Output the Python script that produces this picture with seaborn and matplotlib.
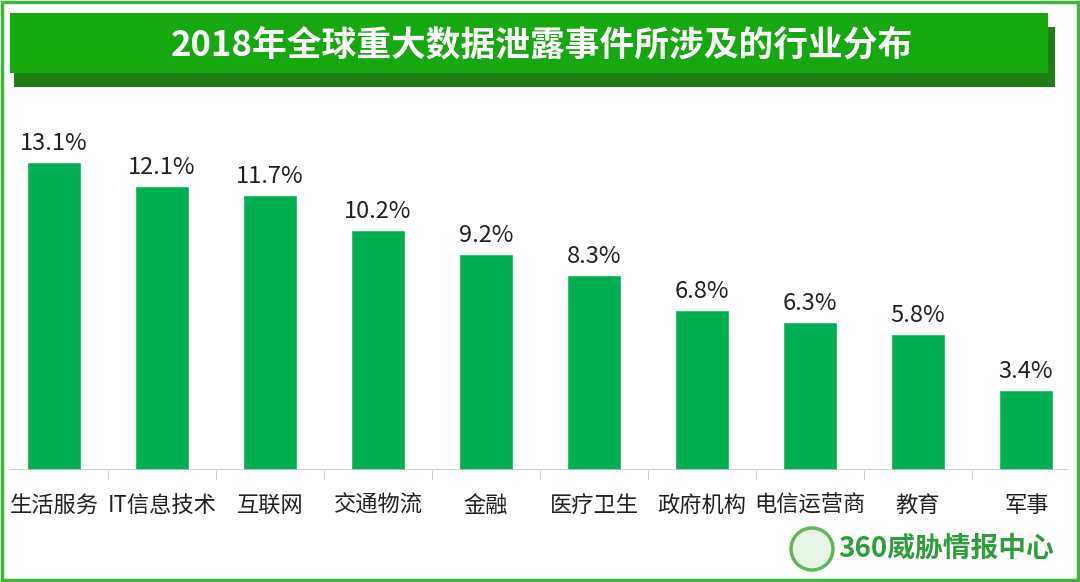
import matplotlib
matplotlib.use("Agg")
import matplotlib.pyplot as plt
import matplotlib.patches as mpatches
import seaborn as sns
import pandas as pd

# data
industries = ["生活服务", "IT信息技术", "互联网", "交通物流", "金融",
              "医疗卫生", "政府机构", "电信运营商", "教育", "军事"]
shares = [13.1, 12.1, 11.7, 10.2, 9.2, 8.3, 6.8, 6.3, 5.8, 3.4]
title = "2018年全球重大数据泄露事件所涉及的行业分布"
brand = "360威胁情报中心"

df = pd.DataFrame({"industry": industries, "share": shares})

sns.set_style("white")
plt.rcParams['font.family'] = ['Noto Sans CJK SC', 'DejaVu Sans']

fig = plt.figure(figsize=(10.8, 5.82), dpi=100)
W, H = 1080, 582

# outer green frame
fig.patches.append(mpatches.Rectangle((2 / W, 2 / H), 1 - 4 / W, 1 - 4 / H,
                                      transform=fig.transFigure, fill=False,
                                      edgecolor="#3cb83a", linewidth=2.5))

# title banner with shadow
fig.patches.append(mpatches.Rectangle((14 / W, 1 - 87 / H), 1041 / W, 60 / H,
                                      transform=fig.transFigure,
                                      facecolor="#1b7f12", edgecolor="none"))
fig.patches.append(mpatches.Rectangle((10 / W, 1 - 73 / H), 1038 / W, 60 / H,
                                      transform=fig.transFigure,
                                      facecolor="#16a80f", edgecolor="none"))
fig.text(542 / W, 1 - 45 / H, title, ha="center", va="center",
         color="white", fontsize=25, fontweight="bold")

ax = fig.add_axes([0, 1 - 470 / H, 1, 350 / H])
sns.barplot(data=df, x="industry", y="share", color="#00b050",
            width=0.5, saturation=1, ax=ax)
ax.set_xlim(-0.5, len(industries) - 0.5)
ax.set_ylim(0, 350 / 23.5)

for i, v in enumerate(shares):
    ax.text(i, v + 0.3, f"{v}%", ha="center", va="bottom",
            fontsize=17, color="#222222")

for s in ax.spines.values():
    s.set_visible(False)
ax.axhline(0, xmin=10 / W, xmax=1068 / W, color="#c8c8c8", linewidth=1.2)
ax.set_xticks(range(len(industries)))
ax.set_xticklabels(industries, fontsize=16, color="#222222")
ax.set_xticks([i + 0.5 for i in range(len(industries) - 1)], minor=True)
ax.tick_params(axis="x", which="major", length=0, pad=17)
ax.tick_params(axis="x", which="minor", length=7, color="#c8c8c8",
               direction="out", bottom=True)
ax.set_yticks([])
ax.set_xlabel("")
ax.set_ylabel("")
ax.patch.set_alpha(0)

# brand mark at bottom right
fig.patches.append(mpatches.Ellipse((812 / W, 1 - 549 / H), 42 / W, 42 / H,
                                    transform=fig.transFigure,
                                    facecolor="#e8f5e6", edgecolor="#5cba5a",
                                    linewidth=2.5))
fig.text(838 / W, 1 - 549 / H, brand, ha="left", va="center",
         color="#2e9e3a", fontsize=20, fontweight="bold")

fig.savefig("out.png", dpi=100)
